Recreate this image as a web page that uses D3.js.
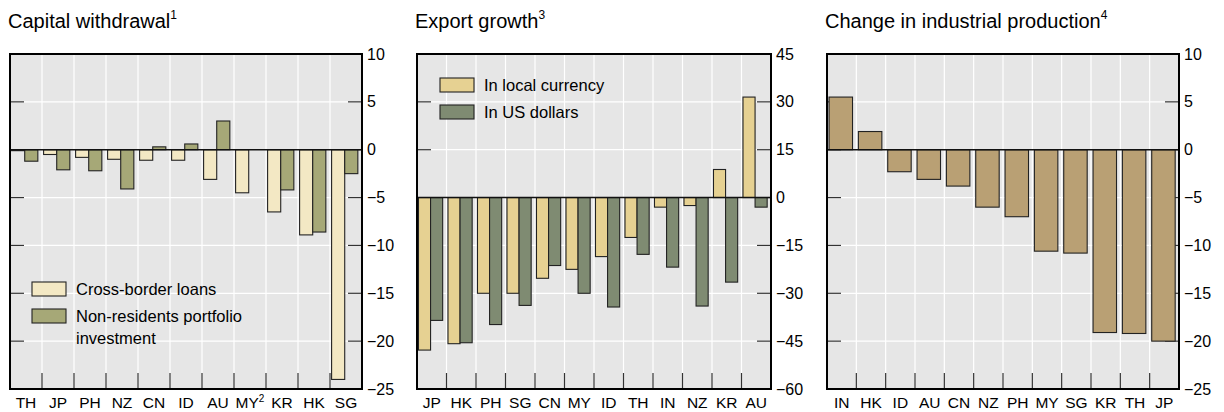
<!DOCTYPE html>
<html><head><meta charset="utf-8">
<script src="https://cdn.jsdelivr.net/npm/d3@7"></script>
<style>body{margin:0;background:#fff}text{font-family:"Liberation Sans",Arial,sans-serif}</style>
</head><body><svg id="c" width="1224" height="412"></svg>
<script>
// panel 1: capital withdrawal
var capCats = ["TH","JP","PH","NZ","CN","ID","AU","MY","KR","HK","SG"];
var capLoans = [-0.1,-0.5,-0.8,-1.0,-1.1,-1.1,-3.1,-4.5,-6.5,-8.9,-24.0];
var capPortfolio = [-1.2,-2.1,-2.2,-4.1,0.3,0.6,3.0,0,-4.2,-8.6,-2.5];
var capTicks = [10,5,0,-5,-10,-15,-20,-25];
// panel 2: export growth
var expCats = ["JP","HK","PH","SG","CN","MY","ID","TH","IN","NZ","KR","AU"];
var expLocal = [-47.8,-45.8,-30,-30,-25.3,-22.5,-18.5,-12.5,-3,-2.5,8.8,31.5];
var expUsd = [-38.5,-45.5,-39.8,-33.8,-21.3,-30,-34.3,-17.8,-21.8,-34,-26.5,-3];
var expTicks = [45,30,15,0,-15,-30,-45,-60];
// panel 3: industrial production
var ipCats = ["IN","HK","ID","AU","CN","NZ","PH","MY","SG","KR","TH","JP"];
var ipVals = [5.5,1.9,-2.3,-3.1,-3.8,-6,-7,-10.6,-10.8,-19.1,-19.2,-20];
var ipTicks = [10,5,0,-5,-10,-15,-20,-25];

var svg = d3.select("#c");
var plotTop = 54, plotBottom = 389;

function panel(o) {
  var g = svg.append("g");
  var x = d3.scaleBand().domain(o.cats).range([o.x0, o.x1]);
  var y = d3.scaleLinear().domain(d3.extent(o.ticks)).range([plotBottom, plotTop]);
  g.append("rect").attr("x", o.x0).attr("y", plotTop).attr("width", o.x1 - o.x0).attr("height", plotBottom - plotTop).attr("fill", "#e6e6e6");
  // grid
  g.selectAll(".hg").data(o.ticks).enter().append("line")
    .attr("x1", o.x0).attr("x2", o.x1).attr("y1", d => y(d)).attr("y2", d => y(d))
    .attr("stroke", "#fff").attr("stroke-width", 1.2);
  g.selectAll(".vg").data(o.cats.slice(1)).enter().append("line")
    .attr("x1", d => x(d)).attr("x2", d => x(d)).attr("y1", plotTop).attr("y2", plotBottom)
    .attr("stroke", "#fff").attr("stroke-width", 1.2);
  // ticks
  o.ticks.forEach(function(t) {
    g.append("line").attr("x1", o.x0).attr("x2", o.x0 + 14).attr("y1", y(t)).attr("y2", y(t)).attr("stroke", "#333").attr("stroke-width", 1.2);
    g.append("line").attr("x1", o.x1 - 14).attr("x2", o.x1).attr("y1", y(t)).attr("y2", y(t)).attr("stroke", "#333").attr("stroke-width", 1.2);
  });
  g.selectAll(".bt").data(o.cats.slice(1)).enter().append("line")
    .attr("x1", d => x(d)).attr("x2", d => x(d)).attr("y1", plotBottom - 16).attr("y2", plotBottom)
    .attr("stroke", "#333").attr("stroke-width", 1.2);
  // bars
  var n = o.series.length;
  o.series.forEach(function(s, k) {
    var bw = n === 1 ? x.bandwidth() * 0.8 : x.bandwidth() * 0.41;
    var off = n === 1 ? x.bandwidth() * 0.07 : x.bandwidth() * 0.05 + k * bw;
    g.selectAll(".b" + k).data(s.vals).enter().append("rect")
      .attr("x", (d, i) => x(o.cats[i]) + off)
      .attr("width", bw)
      .attr("y", d => y(Math.max(0, d)))
      .attr("height", d => Math.abs(y(d) - y(0)))
      .attr("fill", s.color).attr("stroke", "#222").attr("stroke-width", 1.1)
      .style("display", d => d === 0 ? "none" : null);
  });
  g.append("line").attr("x1", o.x0).attr("x2", o.x1).attr("y1", y(0)).attr("y2", y(0)).attr("stroke", "#111").attr("stroke-width", 1.6);
  g.append("rect").attr("x", o.x0).attr("y", plotTop).attr("width", o.x1 - o.x0).attr("height", plotBottom - plotTop)
    .attr("fill", "none").attr("stroke", "#000").attr("stroke-width", 2);
  // right axis labels
  var ax = g.append("g").attr("transform", "translate(" + o.x1 + ",0)")
    .call(d3.axisRight(y).tickValues(o.ticks).tickSize(0).tickPadding(5).tickFormat(d => d < 0 ? "\u2212" + Math.abs(d) : d));
  ax.select(".domain").remove();
  ax.selectAll("text").attr("font-size", 16).attr("fill", "#000").style("font-family", "Liberation Sans, Arial, sans-serif");
  // category labels
  var lab = g.selectAll(".cl").data(o.cats).enter().append("text")
    .attr("x", d => x(d) + x.bandwidth() / 2).attr("y", 408).attr("text-anchor", "middle")
    .attr("font-size", 15.5).text(d => d);
  if (o.sup) lab.filter(d => d === o.sup[0]).append("tspan").attr("dy", -6).attr("font-size", 10).text(o.sup[1]);
  // title
  var t = svg.append("text").attr("x", o.x0 - 2).attr("y", 28).attr("font-size", 20).text(o.title);
  t.append("tspan").attr("dy", -9).attr("font-size", 12).text(o.titleSup);
  // legend
  if (o.legend) {
    o.legend.forEach(function(l, i) {
      g.append("rect").attr("x", o.lx).attr("y", o.ly + i * 27).attr("width", 34).attr("height", 14)
        .attr("fill", o.series[i].color).attr("stroke", "#222").attr("stroke-width", 1.1);
      var tx = g.append("text").attr("x", o.lx + 44).attr("y", o.ly + i * 27 + 13).attr("font-size", 16.5);
      l.forEach((line, j) => tx.append("tspan").attr("x", o.lx + 44).attr("dy", j ? 22 : 0).text(line));
    });
  }
}

panel({x0: 10, x1: 362, cats: capCats, ticks: capTicks, title: "Capital withdrawal", titleSup: "1",
  series: [{vals: capLoans, color: "#f3e8c4"}, {vals: capPortfolio, color: "#a6a877"}],
  sup: ["MY", "2"], legend: [["Cross-border loans"], ["Non-residents portfolio", "investment"]], lx: 32, ly: 282});
panel({x0: 417, x1: 771, cats: expCats, ticks: expTicks, title: "Export growth", titleSup: "3",
  series: [{vals: expLocal, color: "#e6d192"}, {vals: expUsd, color: "#7f8b72"}],
  legend: [["In local currency"], ["In US dollars"]], lx: 440, ly: 78});
panel({x0: 827, x1: 1179, cats: ipCats, ticks: ipTicks, title: "Change in industrial production", titleSup: "4",
  series: [{vals: ipVals, color: "#b9a074"}]});
</script></body></html>
